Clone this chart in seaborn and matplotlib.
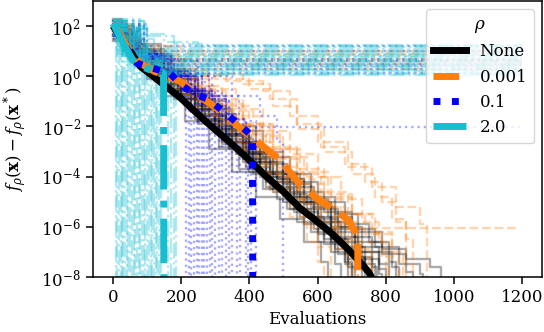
import numpy as np
import pandas as pd
import matplotlib
matplotlib.use("Agg")
import matplotlib.pyplot as plt
import seaborn as sns

# rho settings and their look
rhos = ["None", "0.001", "0.1", "2.0"]
colors = ["black", "#ff7f0e", "blue", "#17becf"]
styles = ["-", "--", ":", "-."]

# median curves: evaluations and log10(f - f*)
med_none_x = [5, 26, 50, 79, 108, 150, 196, 240, 292, 340, 392, 450, 500, 547, 600, 643, 690, 722, 750, 770]
med_none_y = [1.9, 1.5, 1.0, 0.4, 0.1, -0.35, -0.84, -1.4, -2.04, -2.6, -3.24, -4.0, -4.6, -5.24, -5.8, -6.28, -6.9, -7.36, -7.8, -8.3]
med_001_x = [10, 40, 79, 120, 158, 196, 254, 313, 371, 430, 488, 547, 596, 655, 693, 713, 718, 719]
med_001_y = [1.9, 1.2, 0.52, 0.2, 0.0, -0.2, -0.8, -1.36, -2.04, -2.68, -3.3, -4.28, -4.84, -5.36, -5.76, -6.28, -6.5, -9]
med_01_x = [10, 40, 70, 117, 167, 196, 234, 275, 313, 348, 380, 409, 410]
med_01_y = [1.8, 1.1, 0.52, 0.32, 0.12, -0.3, -0.68, -0.9, -1.28, -1.68, -2.04, -2.4, -9]
med_2_x = [0, 30, 58, 88, 120, 148, 149]
med_2_y = [2.1, 1.3, 0.64, 0.36, 0.2, 0.12, -9]

# single runs (best so far), as (evaluations, log10 value) break points
runs_none = [
    [(0, 2.1), (20, 1.6), (50, 1.1), (100, 0.3), (160, -0.5), (230, -1.4), (300, -2.3), (380, -3.3), (450, -4.2), (520, -5.0), (590, -5.9), (640, -6.6), (680, -7.4), (700, -9)],
    [(0, 1.6), (40, 1.0), (110, 0.0), (170, -0.7), (240, -1.7), (320, -2.6), (400, -3.8), (470, -4.6), (550, -5.6), (620, -6.5), (690, -7.3), (740, -9)],
    [(0, 1.9), (25, 1.4), (60, 0.9), (130, 0.1), (200, -0.8), (260, -1.6), (330, -2.5), (410, -3.4), (480, -4.1), (560, -5.0), (640, -6.1), (720, -7.0), (780, -7.7), (800, -9)],
    [(0, 2.3), (25, 1.7), (70, 1.0), (140, 0.2), (220, -0.9), (300, -2.0), (390, -3.0), (470, -3.9), (550, -4.9), (630, -5.6), (700, -6.4), (760, -7.0), (820, -7.6), (840, -9)],
    [(0, 1.4), (50, 0.6), (100, -0.1), (150, -0.8), (210, -1.8), (280, -2.9), (350, -3.8), (420, -4.8), (490, -5.7), (560, -6.6), (610, -7.4), (630, -9)],
    [(0, 2.0), (30, 1.4), (80, 0.8), (160, -0.1), (250, -1.0), (330, -2.0), (420, -3.0), (500, -3.9), (580, -4.8), (650, -5.5), (720, -6.2), (790, -6.9), (860, -7.3), (930, -7.6), (962, -9)],
    [(0, 1.7), (45, 1.0), (120, 0.1), (190, -0.6), (260, -1.6), (330, -2.4), (400, -3.2), (460, -4.0), (530, -4.8), (600, -5.7), (660, -6.4), (720, -7.2), (760, -9)],
    [(0, 2.2), (25, 1.7), (60, 1.3), (140, 0.3), (210, -0.6), (280, -1.5), (360, -2.6), (430, -3.5), (510, -4.4), (590, -5.3), (660, -6.0), (730, -6.6), (790, -7.1), (860, -7.8), (880, -9)],
    [(0, 1.8), (55, 0.9), (115, 0.1), (180, -0.9), (250, -1.9), (310, -2.8), (370, -3.7), (440, -4.5), (510, -5.3), (580, -6.2), (640, -7.0), (690, -7.6), (710, -9)],
    [(0, 1.5), (70, 0.7), (150, -0.3), (230, -1.3), (310, -2.3), (390, -3.3), (460, -4.2), (540, -5.0), (610, -5.8), (680, -6.8), (740, -7.5), (770, -9)],
    [(0, 2.0), (45, 1.3), (90, 0.6), (140, -0.1), (200, -0.9), (270, -1.9), (340, -2.9), (410, -3.9), (480, -4.9), (540, -5.8), (600, -6.6), (650, -7.5), (670, -9)],
    [(0, 1.9), (35, 1.2), (90, 0.5), (180, -0.5), (260, -1.3), (350, -2.2), (440, -3.2), (520, -4.2), (600, -5.0), (680, -5.9), (750, -6.6), (810, -7.4), (830, -9)],
    [(0, 2.0), (30, 1.4), (80, 0.6), (130, -0.1), (190, -0.9), (250, -1.8), (320, -2.7), (390, -3.6), (460, -4.5), (530, -5.4), (600, -6.3), (660, -7.1), (690, -9)],
    [(0, 1.8), (60, 1.0), (120, 0.2), (190, -0.7), (270, -1.8), (350, -2.8), (430, -3.8), (500, -4.7), (570, -5.6), (640, -6.5), (700, -7.2), (740, -7.8), (750, -9)],
    [(0, 2.1), (30, 1.5), (70, 1.1), (150, 0.0), (240, -1.1), (320, -2.1), (400, -3.1), (480, -4.1), (560, -5.1), (640, -6.0), (710, -6.8), (780, -7.5), (810, -9)],
    [(0, 1.6), (40, 0.9), (100, 0.2), (170, -0.6), (240, -1.5), (310, -2.4), (380, -3.4), (450, -4.4), (520, -5.3), (590, -6.1), (650, -6.9), (710, -7.7), (730, -9)],
    [(0, 2.2), (35, 1.5), (90, 0.9), (170, -0.1), (250, -1.2), (330, -2.3), (400, -3.1), (470, -3.8), (540, -4.6), (620, -5.4), (700, -6.1), (770, -6.8), (840, -7.5), (900, -7.9), (910, -9)],
    [(0, 1.9), (50, 1.1), (110, 0.3), (170, -0.4), (230, -1.3), (300, -2.2), (360, -3.1), (430, -4.0), (500, -5.0), (560, -5.9), (620, -6.7), (680, -7.5), (700, -9)],
    [(0, 1.7), (30, 1.1), (80, 0.6), (160, -0.3), (240, -1.2), (310, -2.1), (380, -3.0), (450, -3.9), (520, -4.8), (600, -5.8), (670, -6.6), (730, -7.3), (780, -7.9), (790, -9)],
    [(0, 2.0), (60, 1.0), (130, 0.2), (200, -0.7), (280, -1.7), (350, -2.6), (420, -3.4), (500, -4.3), (580, -5.2), (650, -6.2), (710, -7.0), (760, -7.6), (775, -9)],
]
runs_001 = [
    [(0, 2.0), (30, 1.3), (80, 0.8), (200, 0.0), (330, -0.2), (440, -0.6), (520, -1.6), (600, -2.6), (690, -3.6), (760, -4.4), (830, -5.2), (900, -5.9), (921, -9)],
    [(0, 1.8), (70, 0.7), (170, -0.1), (260, -0.8), (350, -1.6), (430, -2.4), (500, -3.2), (570, -4.0), (640, -4.8), (700, -5.5), (760, -6.2), (820, -7.0), (850, -9)],
    [(0, 1.7), (50, 1.0), (120, 0.2), (200, -0.6), (280, -1.5), (360, -2.5), (440, -3.5), (520, -4.5), (560, -5.3), (580, -6.04), (1185, -6.04)],
    [(0, 2.1), (25, 1.5), (60, 1.1), (140, 0.3), (210, -0.5), (290, -1.3), (370, -2.2), (450, -3.2), (520, -4.1), (590, -5.0), (650, -5.9), (700, -6.8), (730, -9)],
    [(0, 1.5), (50, 0.8), (110, 0.1), (180, -0.7), (250, -1.6), (320, -2.6), (390, -3.6), (460, -4.6), (520, -5.6), (570, -6.6), (600, -7.4), (620, -9)],
    [(0, 1.9), (35, 1.2), (90, 0.6), (180, -0.1), (280, -0.9), (380, -1.9), (470, -2.9), (550, -3.8), (630, -4.7), (700, -5.5), (770, -6.3), (820, -7.2), (840, -9)],
    [(0, 2.2), (25, 1.6), (70, 1.2), (160, 0.3), (240, -0.4), (320, -1.2), (400, -2.0), (470, -2.9), (540, -3.9), (610, -4.9), (670, -5.8), (720, -6.6), (760, -9)],
    [(0, 1.6), (60, 0.7), (130, 0.0), (220, -0.9), (300, -1.9), (380, -2.9), (450, -3.9), (510, -4.9), (560, -5.9), (600, -6.8), (640, -9)],
    [(0, 2.0), (40, 1.3), (100, 0.7), (220, 0.0), (300, -0.1), (400, -0.5), (470, -1.2), (540, -2.1), (620, -3.0), (700, -3.9), (770, -4.8), (820, -5.7), (860, -6.5), (880, -9)],
    [(0, 1.8), (40, 1.2), (100, 0.5), (170, -0.2), (250, -1.1), (330, -2.0), (410, -3.0), (480, -4.0), (540, -4.9), (600, -5.8), (660, -6.6), (700, -7.4), (720, -9)],
    [(0, 1.9), (60, 0.9), (140, 0.2), (220, -0.4), (300, -1.1), (380, -1.9), (460, -2.8), (540, -3.7), (620, -4.6), (690, -5.5), (740, -6.3), (790, -7.2), (810, -9)],
    [(0, 2.1), (30, 1.4), (80, 0.9), (170, 0.1), (250, -0.6), (330, -1.4), (410, -2.3), (490, -3.3), (560, -4.3), (620, -5.2), (680, -6.1), (720, -6.9), (750, -7.7), (760, -9)],
    [(0, 1.7), (50, 0.9), (120, 0.2), (190, -0.5), (270, -1.4), (350, -2.3), (420, -3.2), (490, -4.2), (550, -5.1), (610, -6.0), (660, -6.9), (690, -7.6), (700, -9)],
    [(0, 2.0), (50, 1.2), (120, 0.6), (250, 0.1), (380, -0.3), (460, -0.9), (540, -1.9), (610, -2.8), (680, -3.5), (740, -4.2), (790, -5.0), (830, -5.8), (860, -9)],
    [(0, 1.8), (70, 0.8), (150, 0.0), (230, -0.8), (310, -1.7), (390, -2.6), (470, -3.6), (540, -4.5), (600, -5.4), (650, -6.3), (690, -7.2), (710, -7.8), (720, -9)],
    [(0, 2.2), (35, 1.5), (90, 1.0), (190, 0.2), (280, -0.5), (360, -1.3), (440, -2.2), (520, -3.1), (600, -4.0), (670, -4.9), (730, -5.8), (780, -6.6), (800, -9)],
    [(0, 1.9), (60, 1.0), (120, 0.5), (1200, 0.5)],
    [(0, 2.0), (30, 1.4), (80, 0.9), (1200, 0.9)],
    [(0, 1.9), (50, 1.1), (100, 0.7), (1200, 0.7)],
    [(0, 2.0), (70, 0.9), (130, 0.6), (1200, 0.6)],
    [(0, 1.8), (60, 0.8), (140, 0.3), (1200, 0.3)],
    [(0, 2.1), (80, 1.2), (200, 1.0), (1200, 1.0)],
]
runs_01 = [
    [(0, 1.8), (60, 0.8), (130, 0.2), (190, -0.4), (215, -9)],
    [(0, 2.0), (30, 1.3), (70, 0.9), (150, 0.1), (200, -0.5), (230, -9)],
    [(0, 1.6), (50, 0.9), (120, 0.3), (180, -0.3), (230, -0.7), (245, -9)],
    [(0, 1.9), (80, 0.7), (160, 0.0), (220, -0.6), (260, -9)],
    [(0, 1.7), (60, 0.9), (140, 0.2), (210, -0.5), (260, -1.0), (275, -9)],
    [(0, 2.1), (35, 1.4), (90, 0.7), (170, 0.0), (240, -0.7), (290, -9)],
    [(0, 1.5), (50, 0.7), (120, 0.1), (200, -0.6), (270, -1.2), (310, -9)],
    [(0, 1.8), (70, 0.8), (150, 0.1), (230, -0.6), (300, -1.3), (330, -9)],
    [(0, 2.0), (30, 1.3), (80, 0.9), (170, 0.2), (250, -0.6), (320, -1.4), (350, -9)],
    [(0, 1.7), (60, 0.8), (140, 0.1), (220, -0.7), (300, -1.5), (360, -2.1), (372, -9)],
    [(0, 1.9), (40, 1.1), (90, 0.6), (190, -0.1), (270, -0.9), (340, -1.7), (390, -9)],
    [(0, 1.6), (70, 0.7), (160, 0.0), (250, -0.8), (330, -1.7), (390, -2.4), (405, -9)],
    [(0, 2.0), (40, 1.2), (100, 0.7), (200, 0.0), (290, -0.8), (370, -1.8), (420, -9)],
    [(0, 2.0), (50, 1.2), (120, 0.6), (250, 0.0), (350, -0.8), (430, -1.6), (480, -2.6), (500, -9)],
    [(0, 1.9), (70, 0.8), (150, 0.2), (200, -0.3), (222, -9)],
    [(0, 1.7), (60, 0.9), (130, 0.3), (210, -0.4), (238, -9)],
    [(0, 2.0), (80, 0.8), (160, 0.1), (230, -0.5), (252, -9)],
    [(0, 1.8), (60, 0.9), (140, 0.2), (220, -0.5), (250, -0.8), (268, -9)],
    [(0, 1.6), (50, 0.8), (120, 0.1), (200, -0.6), (260, -1.1), (283, -9)],
    [(0, 2.1), (90, 0.8), (170, 0.1), (240, -0.6), (280, -1.1), (300, -9)],
    [(0, 1.9), (70, 0.9), (150, 0.2), (230, -0.5), (290, -1.2), (320, -9)],
    [(0, 1.8), (80, 0.7), (160, 0.0), (240, -0.8), (310, -1.6), (340, -9)],
    [(0, 2.0), (90, 0.8), (180, 0.0), (260, -0.8), (330, -1.7), (365, -9)],
    [(0, 1.7), (70, 0.8), (170, 0.0), (260, -0.9), (340, -1.9), (380, -2.5), (395, -9)],
    [(0, 1.8), (80, 0.8), (180, 0.1), (280, -0.9), (300, -2.04), (1200, -2.04)],
    [(0, 1.9), (70, 1.0), (130, 0.7), (1200, 0.7)],
    [(0, 2.0), (90, 0.8), (160, 0.3), (1200, 0.3)],
    [(0, 1.7), (60, 1.2), (1200, 1.2)],
    [(0, 1.8), (60, 1.0), (120, 0.6), (1200, 0.6)],
    [(0, 2.0), (70, 0.9), (140, 0.5), (1200, 0.5)],
    [(0, 1.9), (80, 0.7), (150, 0.4), (1200, 0.4)],
    [(0, 1.7), (60, 1.0), (1200, 1.0)],
    [(0, 2.1), (100, 0.6), (180, 0.15), (1200, 0.15)],
]
runs_2 = [
    [(0, 2.2), (12, -9)],
    [(0, 1.9), (10, 1.3), (22, -9)],
    [(0, 2.0), (15, 1.2), (30, -9)],
    [(0, 1.7), (20, 1.0), (40, -9)],
    [(0, 2.1), (25, 1.1), (50, -9)],
    [(0, 1.8), (30, 0.9), (60, -9)],
    [(0, 2.2), (35, 1.0), (70, -9)],
    [(0, 1.6), (40, 0.8), (80, -9)],
    [(0, 2.0), (45, 0.9), (90, -9)],
    [(0, 1.9), (50, 0.7), (100, -9)],
    [(0, 2.1), (55, 0.8), (110, -9)],
    [(0, 1.7), (60, 0.6), (120, -9)],
    [(0, 2.0), (70, 0.7), (130, -9)],
    [(0, 1.8), (80, 0.5), (140, -9)],
    [(0, 2.2), (90, 0.6), (170, -9)],
    [(0, 1.9), (100, 0.4), (178, -9)],
    [(0, 2.1), (8, -9)],
    [(0, 1.8), (8, 1.2), (18, -9)],
    [(0, 2.0), (12, 1.1), (26, -9)],
    [(0, 1.9), (15, 0.9), (35, -9)],
    [(0, 2.2), (20, 1.0), (45, -9)],
    [(0, 1.7), (25, 0.8), (55, -9)],
    [(0, 2.0), (30, 0.8), (50, 0.5), (65, -9)],
    [(0, 1.9), (35, 0.7), (60, 0.4), (75, -9)],
    [(0, 2.1), (40, 0.8), (70, 0.4), (85, -9)],
    [(0, 1.8), (40, 0.6), (80, 0.3), (95, -9)],
    [(0, 2.0), (50, 0.7), (90, 0.3), (105, -9)],
    [(0, 1.9), (55, 0.6), (95, 0.2), (115, -9)],
    [(0, 2.2), (60, 0.6), (100, 0.3), (125, -9)],
    [(0, 1.8), (65, 0.5), (110, 0.2), (135, -9)],
    [(0, 2.0), (70, 0.6), (120, 0.2), (160, -9)],
    [(0, 1.9), (80, 0.5), (130, 0.3), (185, -9)],
    [(0, 2.2), (60, 1.7), (150, 1.35), (250, 1.2), (1200, 1.2)],
    [(0, 2.0), (30, 1.0), (1200, 1.0)],
    [(0, 1.8), (50, 0.85), (1200, 0.85)],
    [(0, 2.1), (60, 0.7), (1200, 0.7)],
    [(0, 1.9), (70, 0.55), (1200, 0.55)],
    [(0, 2.0), (80, 0.4), (1200, 0.4)],
    [(0, 1.7), (90, 0.25), (1200, 0.25)],
    [(0, 2.1), (60, 1.1), (1200, 1.1)],
    [(0, 1.9), (100, 0.1), (1200, 0.1)],
    [(0, 2.3), (80, 1.6), (180, 1.3), (260, 1.25), (1200, 1.25)],
    [(0, 2.1), (50, 1.5), (120, 1.15), (1200, 1.15)],
    [(0, 2.0), (40, 1.3), (100, 0.95), (1200, 0.95)],
    [(0, 2.2), (50, 1.2), (110, 0.8), (1200, 0.8)],
    [(0, 1.9), (40, 1.0), (90, 0.75), (1200, 0.75)],
    [(0, 2.0), (60, 1.0), (120, 0.65), (1200, 0.65)],
    [(0, 1.8), (50, 0.9), (100, 0.6), (1200, 0.6)],
    [(0, 2.1), (70, 0.9), (130, 0.5), (1200, 0.5)],
    [(0, 1.9), (60, 0.8), (110, 0.45), (1200, 0.45)],
    [(0, 2.0), (80, 0.7), (140, 0.35), (1200, 0.35)],
    [(0, 1.8), (70, 0.6), (120, 0.3), (1200, 0.3)],
    [(0, 2.2), (90, 0.6), (150, 0.2), (1200, 0.2)],
    [(0, 1.9), (80, 0.5), (130, 0.15), (1200, 0.15)],
    [(0, 2.0), (100, 0.4), (160, 0.05), (1200, 0.05)],
    [(0, 2.1), (40, 1.3), (90, 0.9), (1200, 0.9)],
]

medians = [(med_none_x, med_none_y), (med_001_x, med_001_y), (med_01_x, med_01_y), (med_2_x, med_2_y)]
all_runs = [runs_none, runs_001, runs_01, runs_2]

plt.rcParams["font.family"] = ["DejaVu Serif"]
plt.rcParams["mathtext.fontset"] = "dejavuserif"
plt.rcParams["font.size"] = 12
plt.rcParams["axes.linewidth"] = 1.1
plt.rcParams["xtick.major.size"] = 5
plt.rcParams["ytick.major.size"] = 5
plt.rcParams["xtick.major.width"] = 1.1
plt.rcParams["ytick.major.width"] = 1.1

fig, ax = plt.subplots(figsize=(5.44, 3.32), dpi=100)
fig.subplots_adjust(left=0.1704, right=0.9969, bottom=0.1657, top=0.997)
ax.set_yscale("log")

# thin lines for each run
for runs, c, ls in zip(all_runs, colors, styles):
    rows = []
    for i, run in enumerate(runs):
        for x, y in run:
            rows.append({"run": i, "evals": x, "value": 10.0 ** y})
    d = pd.DataFrame(rows)
    sns.lineplot(data=d, x="evals", y="value", units="run", estimator=None, sort=False,
                 drawstyle="steps-post", color=c, linestyle=ls, lw=1.7, alpha=0.33, ax=ax)

# thick median lines
for (mx, my), rho, c, ls in zip(medians, rhos, colors, styles):
    sns.lineplot(x=mx, y=10.0 ** np.array(my), sort=False, color=c, linestyle=ls,
                 lw=5, label=rho, ax=ax)

ax.set_xlim(-60, 1260)
ax.set_ylim(1e-8, 1e3)
ax.set_xticks([0, 200, 400, 600, 800, 1000, 1200])
ax.set_yticks([1e-8, 1e-6, 1e-4, 1e-2, 1e0, 1e2])
ax.yaxis.set_minor_locator(matplotlib.ticker.NullLocator())
ax.set_xlabel("Evaluations", labelpad=4)
ax.set_ylabel(r"$f_\rho(\mathbf{x}) - f_\rho(\mathbf{x}^*)$", labelpad=9)
ax.legend(title=r"$\rho$", loc="upper right")

fig.savefig("out.png", dpi=100)
